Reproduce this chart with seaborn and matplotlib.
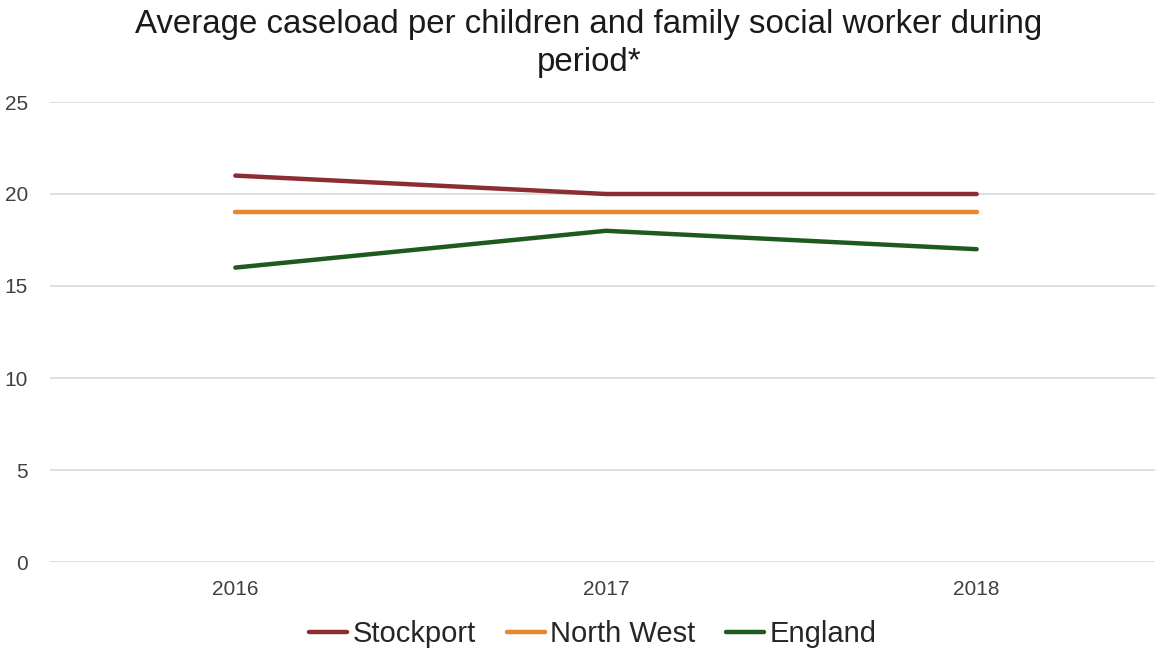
import matplotlib
matplotlib.use("Agg")
import matplotlib.pyplot as plt
import seaborn as sns
import pandas as pd

years = ["2016", "2017", "2018"]
stockport = [21, 20, 20]
north_west = [19, 19, 19]
england = [16, 18, 17]
series_names = ["Stockport", "North West", "England"]
colors = ["#8C2D32", "#E8852D", "#1E5A1E"]

df = pd.DataFrame({
    "Year": years * 3,
    "Caseload": stockport + north_west + england,
    "Area": [n for n in series_names for _ in years],
})
df["pos"] = df["Year"].map({y: i for i, y in enumerate(years)})

sns.set_theme(style="white")
plt.rcParams["font.family"] = ["Liberation Sans", "DejaVu Sans"]

W, H = 1155, 655
fig = plt.figure(figsize=(W / 100, H / 100), dpi=100)
ax = fig.add_axes([50 / W, 1 - 562 / H, (1162 - 50) / W, (562 - 102) / H])

sns.lineplot(data=df, x="pos", y="Caseload", hue="Area", hue_order=series_names,
             palette=colors, linewidth=3.2, ax=ax, legend=False)

ax.set_xlim(-0.5, 2.5)
ax.set_ylim(0, 25)
ax.set_yticks([0, 5, 10, 15, 20, 25])
ax.set_xticks(range(len(years)))
ax.set_xticklabels(years)
ax.yaxis.grid(True, color="#D9D9D9", linewidth=1.2)
ax.set_axisbelow(True)
for s in ax.spines.values():
    s.set_visible(False)
ax.tick_params(axis="both", length=0, labelsize=15, colors="#404040")
ax.tick_params(axis="y", pad=16)
ax.tick_params(axis="x", pad=13)
ax.set_xlabel("")
ax.set_ylabel("")

fig.text(589 / W, 1 - 43.5 / H,
         "Average caseload per children and family social worker during\nperiod*",
         ha="center", va="center", fontsize=23.8, color="#1a1a1a", linespacing=1.25)

handles = [plt.Line2D([], [], color=c, linewidth=3.2) for c in colors]
fig.legend(handles, series_names, loc="center", bbox_to_anchor=(593 / W, 1 - 634 / H),
           ncol=3, frameon=False, fontsize=21, handlelength=1.3, handletextpad=0.2,
           columnspacing=1.05)

fig.savefig("out.png", dpi=100)
